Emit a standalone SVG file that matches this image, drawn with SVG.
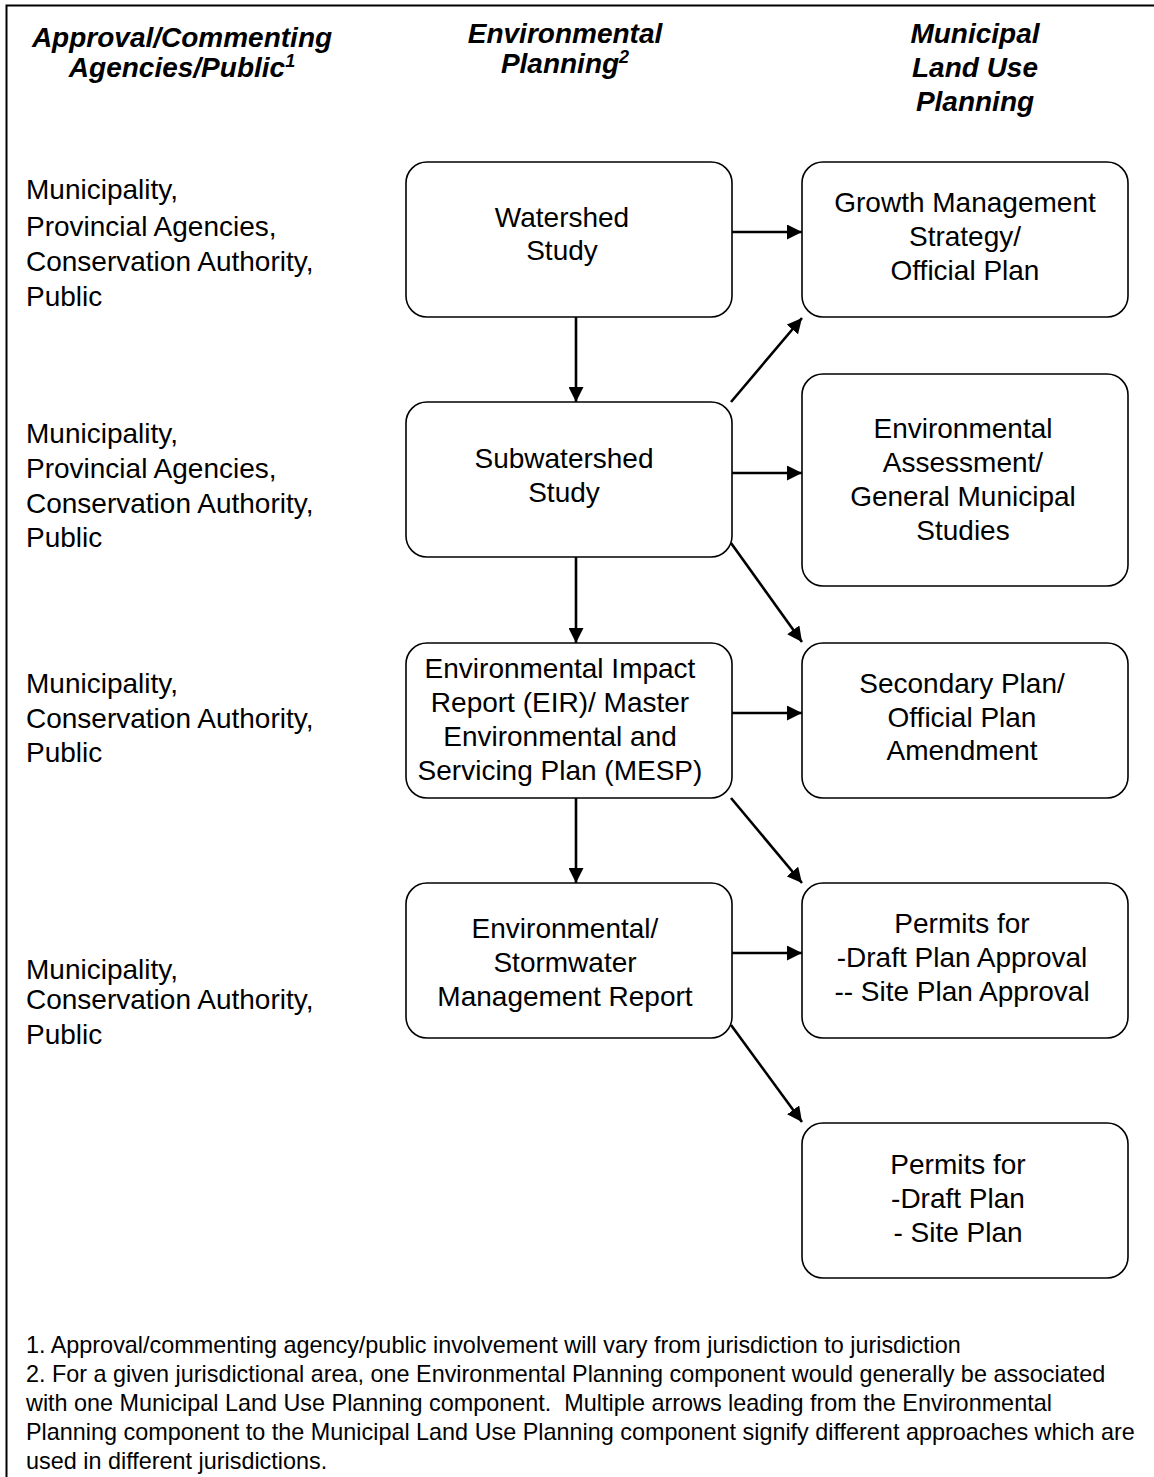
<svg xmlns="http://www.w3.org/2000/svg" width="1154" height="1477" viewBox="0 0 1154 1477">
<style>
.box{fill:#fff;stroke:#000;stroke-width:1.6}
.t{font-family:"Liberation Sans",Arial,sans-serif;font-size:28px;fill:#000}
.c{text-anchor:middle}
.h{font-family:"Liberation Sans",Arial,sans-serif;font-size:28px;font-weight:bold;font-style:italic;text-anchor:middle;fill:#000}
.f{font-family:"Liberation Sans",Arial,sans-serif;font-size:23.4px;fill:#000}
.a{stroke:#000;stroke-width:2.6;fill:none;marker-end:url(#ah)}
</style>
<defs>
<marker id="ah" markerUnits="userSpaceOnUse" markerWidth="16" markerHeight="15" refX="15" refY="7.5" orient="auto">
<path d="M0,0 L15,7.5 L0,15 Z" fill="#000"/>
</marker>
</defs>
<rect x="0" y="0" width="1154" height="1477" fill="#fff"/>
<rect x="6.5" y="5.5" width="1152" height="1480" fill="none" stroke="#000" stroke-width="2"/>

<g id="headers">
<text class="h" x="182" y="47">Approval/Commenting</text>
<text class="h" x="182" y="77">Agencies/Public<tspan font-size="18" dy="-10">1</tspan></text>
<text class="h" x="565" y="43">Environmental</text>
<text class="h" x="565" y="73">Planning<tspan font-size="18" dy="-10">2</tspan></text>
<text class="h" x="975" y="43">Municipal</text>
<text class="h" x="975" y="77">Land Use</text>
<text class="h" x="975" y="111">Planning</text>
</g>

<g id="agencies">
<text class="t" x="26" y="199">Municipality,</text>
<text class="t" x="26" y="236">Provincial Agencies,</text>
<text class="t" x="26" y="271">Conservation Authority,</text>
<text class="t" x="26" y="306">Public</text>
<text class="t" x="26" y="443">Municipality,</text>
<text class="t" x="26" y="478">Provincial Agencies,</text>
<text class="t" x="26" y="513">Conservation Authority,</text>
<text class="t" x="26" y="547">Public</text>
<text class="t" x="26" y="693">Municipality,</text>
<text class="t" x="26" y="728">Conservation Authority,</text>
<text class="t" x="26" y="762">Public</text>
<text class="t" x="26" y="979">Municipality,</text>
<text class="t" x="26" y="1009">Conservation Authority,</text>
<text class="t" x="26" y="1044">Public</text>
</g>

<g id="watershed">
<rect class="box" x="406" y="162" width="326" height="155" rx="21"/>
<text class="t c" x="562" y="227">Watershed</text>
<text class="t c" x="562" y="260">Study</text>
</g>
<g id="subwatershed">
<rect class="box" x="406" y="402" width="326" height="155" rx="21"/>
<text class="t c" x="564" y="468">Subwatershed</text>
<text class="t c" x="564" y="502">Study</text>
</g>
<g id="eir">
<rect class="box" x="406" y="643" width="326" height="155" rx="21"/>
<text class="t c" x="560" y="678">Environmental Impact</text>
<text class="t c" x="560" y="712">Report (EIR)/ Master</text>
<text class="t c" x="560" y="746">Environmental and</text>
<text class="t c" x="560" y="780">Servicing Plan (MESP)</text>
</g>
<g id="stormwater">
<rect class="box" x="406" y="883" width="326" height="155" rx="21"/>
<text class="t c" x="565" y="938">Environmental/</text>
<text class="t c" x="565" y="972">Stormwater</text>
<text class="t c" x="565" y="1006">Management Report</text>
</g>

<g id="growth">
<rect class="box" x="802" y="162" width="326" height="155" rx="21"/>
<text class="t c" x="965" y="212">Growth Management</text>
<text class="t c" x="965" y="246">Strategy/</text>
<text class="t c" x="965" y="280">Official Plan</text>
</g>
<g id="envassess">
<rect class="box" x="802" y="374" width="326" height="212" rx="21"/>
<text class="t c" x="963" y="438">Environmental</text>
<text class="t c" x="963" y="472">Assessment/</text>
<text class="t c" x="963" y="506">General Municipal</text>
<text class="t c" x="963" y="540">Studies</text>
</g>
<g id="secondary">
<rect class="box" x="802" y="643" width="326" height="155" rx="21"/>
<text class="t c" x="962" y="693">Secondary Plan/</text>
<text class="t c" x="962" y="727">Official Plan</text>
<text class="t c" x="962" y="760">Amendment</text>
</g>
<g id="permits1">
<rect class="box" x="802" y="883" width="326" height="155" rx="21"/>
<text class="t c" x="962" y="933">Permits for</text>
<text class="t c" x="962" y="967">-Draft Plan Approval</text>
<text class="t c" x="962" y="1001">-- Site Plan Approval</text>
</g>
<g id="permits2">
<rect class="box" x="802" y="1123" width="326" height="155" rx="21"/>
<text class="t c" x="958" y="1174">Permits for</text>
<text class="t c" x="958" y="1208">-Draft Plan</text>
<text class="t c" x="958" y="1242">- Site Plan</text>
</g>

<g id="connectors">
<line class="a" x1="732" y1="232" x2="802" y2="232"/>
<line class="a" x1="576" y1="317" x2="576" y2="402"/>
<line class="a" x1="731" y1="402" x2="802" y2="318"/>
<line class="a" x1="732" y1="473" x2="802" y2="473"/>
<line class="a" x1="731" y1="543" x2="802" y2="642"/>
<line class="a" x1="576" y1="557" x2="576" y2="643"/>
<line class="a" x1="732" y1="713" x2="802" y2="713"/>
<line class="a" x1="731" y1="798" x2="802" y2="883"/>
<line class="a" x1="576" y1="798" x2="576" y2="883"/>
<line class="a" x1="732" y1="953" x2="802" y2="953"/>
<line class="a" x1="731" y1="1025" x2="802" y2="1122"/>
</g>

<g id="footnotes">
<text class="f" x="26" y="1353">1. Approval/commenting agency/public involvement will vary from jurisdiction to jurisdiction</text>
<text class="f" x="26" y="1382">2. For a given jurisdictional area, one Environmental Planning component would generally be associated</text>
<text class="f" x="26" y="1411">with one Municipal Land Use Planning component.&#160; Multiple arrows leading from the Environmental</text>
<text class="f" x="26" y="1440">Planning component to the Municipal Land Use Planning component signify different approaches which are</text>
<text class="f" x="26" y="1469">used in different jurisdictions.</text>
</g>
</svg>
